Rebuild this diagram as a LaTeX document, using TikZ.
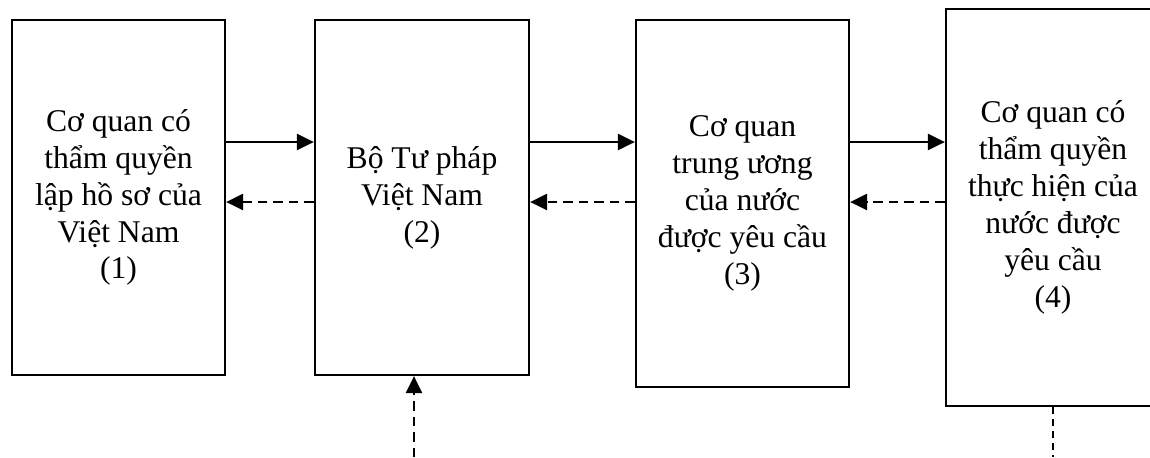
\documentclass[tikz,border=0pt]{standalone}
\usepackage{fontspec}
\setmainfont{Liberation Serif}
\usetikzlibrary{arrows.meta}

\begin{document}
\begin{tikzpicture}[x=0.02cm, y=-0.02cm,
    box/.style={rectangle, draw, line width=1.3pt, align=center, inner sep=0pt,
      font=\fontsize{18pt}{21pt}\selectfont},
    flow/.style={line width=1.4pt, -{Triangle[length=0.34cm, width=0.32cm]}},
    back/.style={flow, dash pattern=on 0.19cm off 0.12cm}]
      \useasboundingbox (0,0) rectangle (1150,457);

      % Nodes
      \node[box, minimum width=4.26cm, minimum height=7.1cm] at (118.5,197.5) (b1)
        {Cơ quan có\\thẩm quyền\\lập hồ sơ của\\Việt Nam\\(1)};
      \node[box, minimum width=4.28cm, minimum height=7.1cm] at (422,197.5) (b2)
        {Bộ Tư pháp\\Việt Nam\\(2)};
      \node[box, minimum width=4.26cm, minimum height=7.34cm] at (742.5,203.5) (b3)
        {Cơ quan\\trung ương\\của nước\\được yêu cầu\\(3)};
      \node[box, minimum width=4.28cm, minimum height=7.94cm] at (1053,207.5) (b4)
        {Cơ quan có\\thẩm quyền\\thực hiện của\\nước được\\yêu cầu\\(4)};

      \coordinate (hi) at (0,142);
      \coordinate (lo) at (0,202);
      \coordinate (in2) at (414,457);

      % Arrows
      \draw[flow] (b1.east |- hi) -- (b2.west |- hi);
      \draw[flow] (b2.east |- hi) -- (b3.west |- hi);
      \draw[flow] (b3.east |- hi) -- (b4.west |- hi);

      \draw[back] (b2.west |- lo) -- (b1.east |- lo);
      \draw[back] (b3.west |- lo) -- (b2.east |- lo);
      \draw[back] (b4.west |- lo) -- (b3.east |- lo);

      \draw[back] (in2) -- (in2 |- b2.south);
      \draw[line width=0.7pt, dash pattern=on 0.13cm off 0.11cm] (b4.south) -- (b4.south |- in2);
    \end{tikzpicture}
\end{document}
